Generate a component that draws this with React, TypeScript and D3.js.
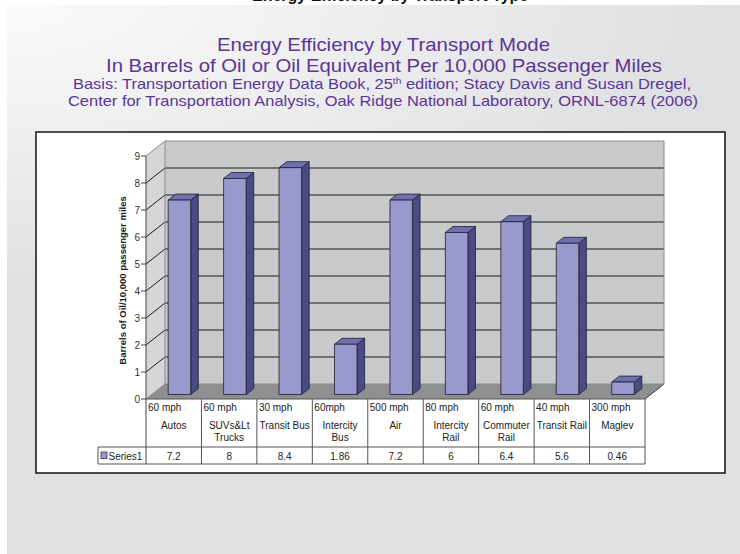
import React from "react";
import * as d3 from "d3";

// chart values
const speeds = ["60 mph", "60 mph", "30 mph", "60mph", "500 mph", "80 mph", "60 mph", "40 mph", "300 mph"];
const modes = [["Autos"], ["SUVs&Lt", "Trucks"], ["Transit Bus"], ["Intercity", "Bus"], ["Air"], ["Intercity", "Rail"], ["Commuter", "Rail"], ["Transit Rail"], ["Maglev"]];
const barrels = [7.2, 8, 8.4, 1.86, 7.2, 6, 6.4, 5.6, 0.46];
const valueLabels = ["7.2", "8", "8.4", "1.86", "7.2", "6", "6.4", "5.6", "0.46"];
const yTicks = [0, 1, 2, 3, 4, 5, 6, 7, 8, 9];
const seriesName = "Series1";

const W = 740;
const H = 554;

// front plane of the 3d plot
const left = 146;
const right = 645;
const bottom = 399;
const top = 156;
const depth = [19, -15];
const barNear = 0.3;
const barFar = 0.7;

const FRONT = "#9999cd";
const SIDE = "#4b4b83";
const TOP = "#6f6fb1";
const PURPLE = "#5b3696";

const font = "'Liberation Sans', Arial, sans-serif";
const titleFont = "'Liberation Sans Narrow', 'Liberation Sans', sans-serif";

export default function App() {
  const ids = speeds.map((_, i) => String(i));

  const x = d3.scaleBand().domain(ids).range([left, right]).paddingInner(0.594).paddingOuter(0.297);
  const cells = d3.scaleBand().domain(ids).range([left, right]).padding(0);
  const y = d3.scaleLinear().domain([0, 9]).range([bottom, top]);

  const dx = depth[0];
  const dy = depth[1];
  const bx1 = barNear * dx, by1 = barNear * dy;
  const bx2 = barFar * dx, by2 = barFar * dy;

  const pts = (a: number[][]) => a.map((p) => p.join(",")).join(" ");

  const floor = pts([[left, bottom], [left + dx, bottom + dy], [right + dx, bottom + dy], [right, bottom]]);
  const sideWall = pts([[left, y(9)], [left + dx, y(9) + dy], [left + dx, bottom + dy], [left, bottom]]);

  const tableTop = bottom;
  const headBottom = 447;
  const rowBottom = 464;
  const labelLeft = 98;

  return (
    <svg width={W} height={H} style={{ position: "absolute", left: 0, top: 0, display: "block" }}>
      <defs>
        <radialGradient id="bg" gradientUnits="userSpaceOnUse" cx={0} cy={0} r={720} gradientTransform="scale(1,0.4)">
          <stop offset="0" stopColor="#fbfbfb" />
          <stop offset="0.35" stopColor="#f2f2f3" />
          <stop offset="1" stopColor="#dfe0e2" />
        </radialGradient>
      </defs>
      <rect width={W} height={H} fill="#ffffff" />
      <rect x={7} y={5} width={W - 7} height={H - 5} fill="url(#bg)" />

      {/* heading of the slide above, only its descenders show */}
      <text x={252} y={0.5} fontFamily={font} fontWeight="bold" fontSize={16} fill="#111">
        Energy Efficiency by Transport Type
      </text>

      <g fill={PURPLE} textAnchor="middle" fontFamily={titleFont}>
        <text x={383.5} y={51} fontSize={19} textLength={333} lengthAdjust="spacingAndGlyphs">
          Energy Efficiency by Transport Mode
        </text>
        <text x={384} y={72} fontSize={19} textLength={556} lengthAdjust="spacingAndGlyphs">
          In Barrels of Oil or Oil Equivalent Per 10,000 Passenger Miles
        </text>
        <text x={382} y={89} fontSize={14.5} textLength={618} lengthAdjust="spacingAndGlyphs">
          Basis:  Transportation Energy Data Book, 25
          <tspan dy={-5} fontSize={9}>th</tspan>
          <tspan dy={5}> edition; Stacy Davis and Susan Dregel,</tspan>
        </text>
        <text x={383} y={106} fontSize={14.5} textLength={630} lengthAdjust="spacingAndGlyphs">
          Center for Transportation Analysis, Oak Ridge National Laboratory, ORNL-6874 (2006)
        </text>
      </g>

      {/* chart frame */}
      <rect x={36} y={132} width={689} height={341} fill="#ffffff" stroke="#111" strokeWidth={1.5} />

      {/* walls */}
      <rect x={left + dx} y={y(9) + dy} width={right - left} height={y(0) - y(9)} fill="#c9cacc" />
      <polygon points={sideWall} fill="#d5d6d8" />
      <polygon points={floor} fill="#8e8f91" />

      {yTicks.filter((t) => t > 0 && t < 9).map((t) => (
        <g key={t} stroke="#1a1a1a" strokeWidth={1}>
          <line x1={left + dx} x2={right + dx} y1={y(t) + dy} y2={y(t) + dy} />
          <line x1={left} x2={left + dx} y1={y(t)} y2={y(t) + dy} />
        </g>
      ))}
      <g stroke="#8a8a8a" strokeWidth={1} fill="none">
        <polyline points={pts([[left, y(9)], [left + dx, y(9) + dy], [right + dx, y(9) + dy], [right + dx, bottom + dy]])} />
        <line x1={left + dx} x2={left + dx} y1={y(9) + dy} y2={bottom + dy} />
        <line x1={left} x2={left + dx} y1={bottom} y2={bottom + dy} />
        <line x1={right} x2={right + dx} y1={bottom} y2={bottom + dy} stroke="#333" />
        <line x1={left + dx} x2={right + dx} y1={bottom + dy} y2={bottom + dy} />
      </g>

      {/* bars */}
      {barrels.map((v, i) => {
        const x0 = x(String(i)) as number;
        const w = x.bandwidth();
        const yt = y(v);
        const front = pts([[x0 + bx1, yt + by1], [x0 + w + bx1, yt + by1], [x0 + w + bx1, bottom + by1], [x0 + bx1, bottom + by1]]);
        const side = pts([[x0 + w + bx1, yt + by1], [x0 + w + bx2, yt + by2], [x0 + w + bx2, bottom + by2], [x0 + w + bx1, bottom + by1]]);
        const lid = pts([[x0 + bx1, yt + by1], [x0 + w + bx1, yt + by1], [x0 + w + bx2, yt + by2], [x0 + bx2, yt + by2]]);
        return (
          <g key={i} stroke="#1e1e2e" strokeWidth={0.8} strokeLinejoin="round">
            <polygon points={side} fill={SIDE} />
            <polygon points={lid} fill={TOP} />
            <polygon points={front} fill={FRONT} />
          </g>
        );
      })}

      {/* value axis */}
      <line x1={left} x2={left} y1={y(9)} y2={rowBottom} stroke="#444" strokeWidth={1} />
      {yTicks.map((t) => (
        <g key={t}>
          <line x1={left - 5} x2={left} y1={y(t)} y2={y(t)} stroke="#444" />
          <text x={left - 6} y={y(t) + 3.5} textAnchor="end" fontFamily={font} fontSize={10} fill="#333">
            {t}
          </text>
        </g>
      ))}
      <text
        transform={`translate(126,${(y(0) + y(9)) / 2 + 3}) rotate(-90)`}
        textAnchor="middle"
        fontFamily={font}
        fontWeight="bold"
        fontSize={9.5}
        fill="#222"
      >
        Barrels of Oil/10,000 passenger miles
      </text>

      {/* data table */}
      <g stroke="#555" strokeWidth={1} fill="none">
        <line x1={left} x2={right} y1={tableTop} y2={tableTop} />
        <line x1={labelLeft} x2={right} y1={headBottom} y2={headBottom} />
        <line x1={labelLeft} x2={right} y1={rowBottom} y2={rowBottom} />
        <line x1={labelLeft} x2={labelLeft} y1={headBottom} y2={rowBottom} />
        {ids.map((id) => (
          <line key={id} x1={(cells(id) as number) + cells.bandwidth()} x2={(cells(id) as number) + cells.bandwidth()} y1={tableTop} y2={rowBottom} />
        ))}
      </g>
      <g fontFamily={font} fontSize={10} fill="#222">
        {ids.map((id, i) => {
          const cx = (cells(id) as number) + cells.bandwidth() / 2;
          return (
            <g key={id}>
              <text x={(cells(id) as number) + 2} y={411}>{speeds[i]}</text>
              {modes[i].map((line, k) => (
                <text key={k} x={cx} y={429 + k * 12} textAnchor="middle">{line}</text>
              ))}
              <text x={cx} y={460} textAnchor="middle">{valueLabels[i]}</text>
            </g>
          );
        })}
        <rect x={101} y={452} width={6} height={6.5} fill={FRONT} stroke="#333" strokeWidth={0.8} />
        <text x={108.5} y={460}>{seriesName}</text>
      </g>
    </svg>
  );
}
